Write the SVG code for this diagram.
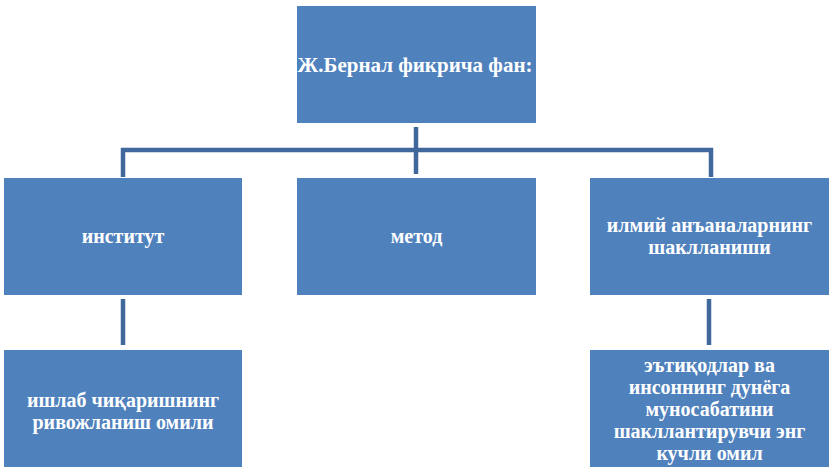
<svg xmlns="http://www.w3.org/2000/svg" width="834" height="473" viewBox="0 0 834 473">
<style>
.box{fill:#4F81BD;}
.t{font-family:'Liberation Serif','Times New Roman','DejaVu Serif',serif;font-weight:bold;font-size:20px;fill:#FFFFFF;text-anchor:middle;}
.c{stroke:#41689C;stroke-width:4.5;fill:none;}
</style>
<rect width="834" height="473" fill="#FFFFFF"/>
<g id="connectors">
<path class="c" d="M416,127 V174"/>
<path class="c" d="M121,150 H713"/>
<path class="c" d="M123,148 V177"/>
<path class="c" d="M711,148 V177"/>
<path class="c" d="M123,299 V345"/>
<path class="c" d="M709,299 V345"/>
</g>
<g id="root">
<rect class="box" x="297" y="6" width="239" height="117"/>
<text class="t" x="415" y="72" style="font-size:21px">Ж.Бернал фикрича фан:</text>
</g>
<g id="institut">
<rect class="box" x="4" y="178" width="238" height="117"/>
<text class="t" x="123" y="243">институт</text>
</g>
<g id="metod">
<rect class="box" x="297" y="178" width="239" height="117"/>
<text class="t" x="416.5" y="243">метод</text>
</g>
<g id="anana">
<rect class="box" x="590" y="178" width="239" height="117"/>
<text class="t" x="709.5" y="232">илмий анъаналарнинг</text>
<text class="t" x="709.5" y="254">шаклланиши</text>
</g>
<g id="ishlab">
<rect class="box" x="4" y="350" width="238" height="117"/>
<text class="t" x="123" y="407">ишлаб чиқаришнинг</text>
<text class="t" x="123" y="429">ривожланиш омили</text>
</g>
<g id="etiqod">
<rect class="box" x="590" y="350" width="239" height="117"/>
<text class="t" x="709.5" y="372">эътиқодлар ва</text>
<text class="t" x="709.5" y="394">инсоннинг дунёга</text>
<text class="t" x="709.5" y="416">муносабатини</text>
<text class="t" x="709.5" y="438">шакллантирувчи энг</text>
<text class="t" x="709.5" y="460">кучли омил</text>
</g>
</svg>
